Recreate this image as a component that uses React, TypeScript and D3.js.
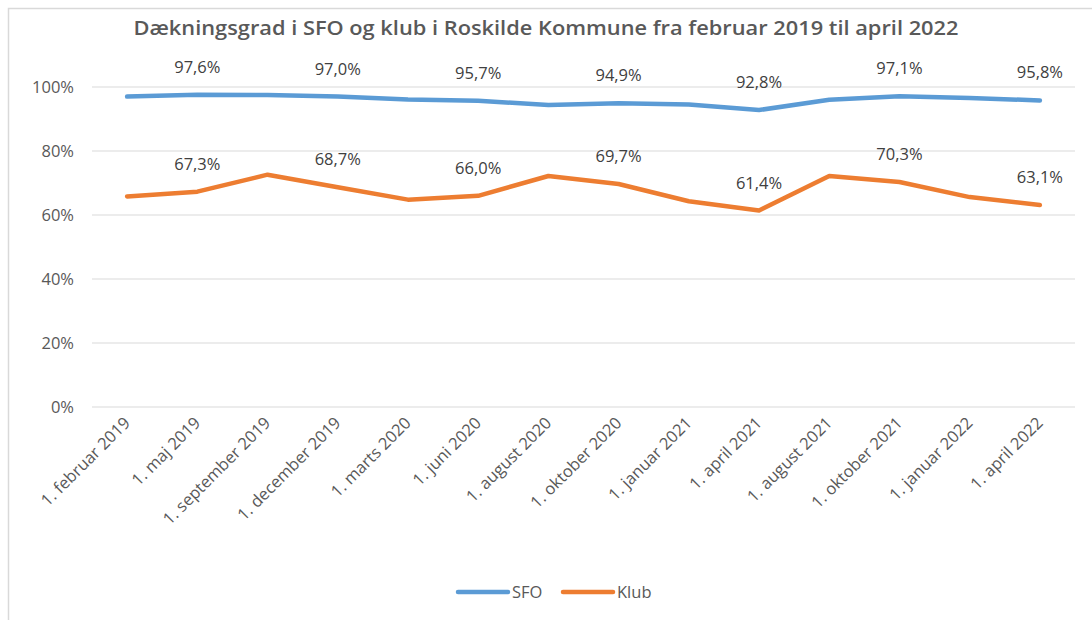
import React, { useEffect, useRef } from "react";
import * as d3 from "d3";

const categories = [
  "1. februar 2019", "1. maj 2019", "1. september 2019", "1. december 2019",
  "1. marts 2020", "1. juni 2020", "1. august 2020", "1. oktober 2020",
  "1. januar 2021", "1. april 2021", "1. august 2021", "1. oktober 2021",
  "1. januar 2022", "1. april 2022",
];
const sfoValues = [97.0, 97.6, 97.5, 97.0, 96.1, 95.7, 94.4, 94.9, 94.5, 92.8, 96.0, 97.1, 96.6, 95.8];
const klubValues = [65.8, 67.3, 72.6, 68.7, 64.8, 66.0, 72.2, 69.7, 64.3, 61.4, 72.2, 70.3, 65.6, 63.1];
const labelIndices = [1, 3, 5, 7, 9, 11, 13];
const yTicks = [0, 20, 40, 60, 80, 100];
const seriesNames = ["SFO", "Klub"];
const seriesColors = ["#5B9BD5", "#ED7D31"];
const title = "Dækningsgrad i SFO og klub i Roskilde Kommune fra februar 2019 til april 2022";

export default function App() {
  const ref = useRef<SVGSVGElement | null>(null);

  useEffect(() => {
    const svg = d3.select(ref.current);
    svg.selectAll("*").remove();
    const W = 1092, H = 620;
    const left = 92, right = 1075, top = 87, bottom = 407;
    const font = "'Open Sans', 'Liberation Sans', sans-serif";

    svg.append("rect").attr("x", 0).attr("y", 0).attr("width", W).attr("height", H).attr("fill", "#fff");
    svg.append("rect").attr("x", 8.5).attr("y", 8.5).attr("width", 1200).attr("height", 800)
      .attr("fill", "none").attr("stroke", "#d9d9d9").attr("stroke-width", 1.5);

    const x = d3.scaleBand<string>().domain(categories).range([left, right]);
    const y = d3.scaleLinear().domain([0, 100]).range([bottom, top]);
    const cx = (i: number) => (x(categories[i]) as number) + x.bandwidth() / 2;

    svg.append("text").attr("x", 546).attr("y", 35).attr("text-anchor", "middle")
      .attr("font-family", font).attr("font-weight", 600).attr("font-size", 19)
      .attr("fill", "#595959").attr("textLength", 825).attr("lengthAdjust", "spacingAndGlyphs")
      .text(title);

    const g = svg.append("g");
    yTicks.forEach((t) => {
      g.append("line").attr("x1", left).attr("x2", right).attr("y1", y(t)).attr("y2", y(t))
        .attr("stroke", "#d9d9d9").attr("stroke-width", 1);
      g.append("text").attr("x", 74).attr("y", y(t) + 6).attr("text-anchor", "end")
        .attr("font-family", font).attr("font-size", 16.5).attr("fill", "#595959").text(t + "%");
    });

    categories.forEach((c, i) => {
      const tx = cx(i) + 4, ty = 424;
      g.append("text").attr("transform", `translate(${tx},${ty}) rotate(-45)`)
        .attr("text-anchor", "end").attr("font-family", font).attr("font-size", 16.5)
        .attr("fill", "#595959").text(c);
    });

    const line = d3.line<number>().x((_, i) => cx(i)).y((d) => y(d));
    [sfoValues, klubValues].forEach((vals, k) => {
      g.append("path").attr("d", line(vals) as string).attr("fill", "none")
        .attr("stroke", seriesColors[k]).attr("stroke-width", 4.5)
        .attr("stroke-linejoin", "round").attr("stroke-linecap", "round");
      labelIndices.forEach((i) => {
        g.append("text").attr("x", cx(i)).attr("y", y(vals[i]) - 22).attr("text-anchor", "middle")
          .attr("font-family", font).attr("font-size", 16.5).attr("fill", "#404040")
          .text(vals[i].toFixed(1).replace(".", ",") + "%");
      });
    });

    const legendX = [458, 563];
    seriesNames.forEach((n, k) => {
      g.append("line").attr("x1", legendX[k]).attr("x2", legendX[k] + 50).attr("y1", 592).attr("y2", 592)
        .attr("stroke", seriesColors[k]).attr("stroke-width", 4.5).attr("stroke-linecap", "round");
      g.append("text").attr("x", legendX[k] + 54).attr("y", 598).attr("font-family", font)
        .attr("font-size", 16.5).attr("fill", "#595959").text(n);
    });
  }, []);

  return (
    <svg ref={ref} width={1092} height={620}
      style={{ position: "absolute", left: 0, top: 0, display: "block" }} />
  );
}
